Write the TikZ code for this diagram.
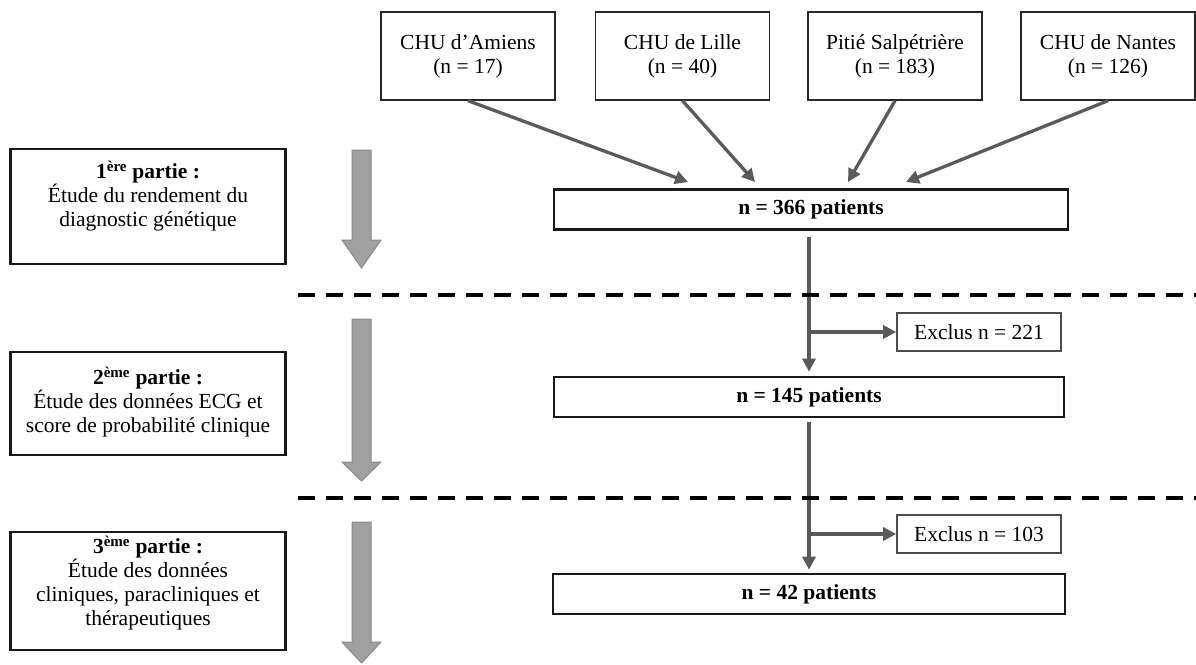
\documentclass[tikz,border=0pt]{standalone}
\usepackage{fontspec}
\setmainfont{Liberation Serif}
\usetikzlibrary{arrows.meta}
\definecolor{conngray}{HTML}{5A5A5A}
\definecolor{blockfill}{HTML}{A0A0A0}
\definecolor{blockdraw}{HTML}{8A8A8A}
\tikzset{
  txt/.style={font=\fontsize{21.5}{24}\selectfont, align=center},
  topbox/.style={draw=black!85, line width=1.4pt, minimum width=174pt, minimum height=88pt, inner sep=0pt, txt},
  mainbox/.style={draw=black!90, line width=2.6pt, minimum height=40pt, inner sep=0pt, txt},
  exclbox/.style={draw=black!70, line width=1.6pt, minimum width=164pt, minimum height=38pt, inner sep=0pt, txt},
  partbox/.style={draw=black!90, line width=2.6pt, minimum width=275pt, inner sep=0pt},
  conn/.style={draw=conngray, line width=3.3pt},
  connarrow/.style={conn, -{Triangle[length=13pt,width=13pt]}},
  dashline/.style={draw=black, line width=4.6pt, dash pattern=on 17pt off 11pt},
  blockarrow/.style={fill=blockfill, draw=blockdraw, line width=1pt},
}
\begin{document}
\begin{tikzpicture}[x=1pt,y=-1pt]
\useasboundingbox (0,0) rectangle (1196,664);
% centre boxes
\node[topbox] (c1) at (468,56) {CHU d’Amiens\\(n = 17)};
\node[topbox] (c2) at (682.5,56) {CHU de Lille\\(n = 40)};
\node[topbox] (c3) at (895,56) {Pitié Salpétrière\\(n = 183)};
\node[topbox] (c4) at (1108,56) {CHU de Nantes\\(n = 126)};
% main boxes
\node[mainbox, minimum width=514pt] (n366) at (811,209.5) {\textbf{n = 366 patients}};
\node[mainbox, minimum width=510pt] (n145) at (809,397) {\textbf{n = 145 patients}};
\node[mainbox, minimum width=512pt] (n42) at (809,594) {\textbf{n = 42 patients}};
% excluded
\node[exclbox] (e1) at (979,332) {Exclus n = 221};
\node[exclbox] (e2) at (979,534) {Exclus n = 103};
% arrow targets
\coordinate (t1) at (688,182);
\coordinate (t2) at (755,182);
\coordinate (t3) at (848,182);
\coordinate (t4) at (906,182);
\draw[connarrow] (c1.south) -- (t1);
\draw[connarrow] (c2.south) -- (t2);
\draw[connarrow] (c3.south) -- (t3);
\draw[connarrow] (c4.south) -- (t4);
% vertical flow
\coordinate (s1) at (809,237);
\coordinate (s2) at (809,422);
\coordinate (b1) at (809,332);
\coordinate (b2) at (809,534);
\draw[connarrow] (s1) -- ([yshift=4pt]n145.north);
\draw[connarrow] (s2) -- ([yshift=3pt]n42.north);
\draw[connarrow] (b1) -- (e1.west);
\draw[connarrow] (b2) -- (e2.west);
% dashed separators
\coordinate (d1a) at (298,295);
\coordinate (d1b) at (1196,295);
\coordinate (d2a) at (298,498);
\coordinate (d2b) at (1196,498);
\draw[dashline] (d1a) -- (d1b);
\draw[dashline] (d2a) -- (d2b);
% left part boxes
\node[partbox, minimum height=115pt] (p1) at (148,206.5) {};
\node[txt] (p1t) at (148,196) {\textbf{1\textsuperscript{ère} partie :}\\Étude du rendement du\\diagnostic génétique};
\node[partbox, minimum height=103pt] (p2) at (148,403.5) {};
\node[txt] (p2t) at (148,402) {\textbf{2\textsuperscript{ème} partie :}\\Étude des données ECG et\\score de probabilité clinique};
\node[partbox, minimum height=118pt] (p3) at (148,591) {};
\node[txt] (p3t) at (148,583) {\textbf{3\textsuperscript{ème} partie :}\\Étude des données\\cliniques, paracliniques et\\thérapeutiques};
% grey block arrows
\path[blockarrow] (352,150) -- (371,150) -- (371,240) -- (381,240) -- (361.5,268) -- (342,240) -- (352,240) -- cycle;
\path[blockarrow] (352,319) -- (371,319) -- (371,462) -- (381,462) -- (361.5,481) -- (342,462) -- (352,462) -- cycle;
\path[blockarrow] (352,522) -- (371,522) -- (371,642) -- (381,642) -- (361.5,663) -- (342,642) -- (352,642) -- cycle;
\end{tikzpicture}
\end{document}
